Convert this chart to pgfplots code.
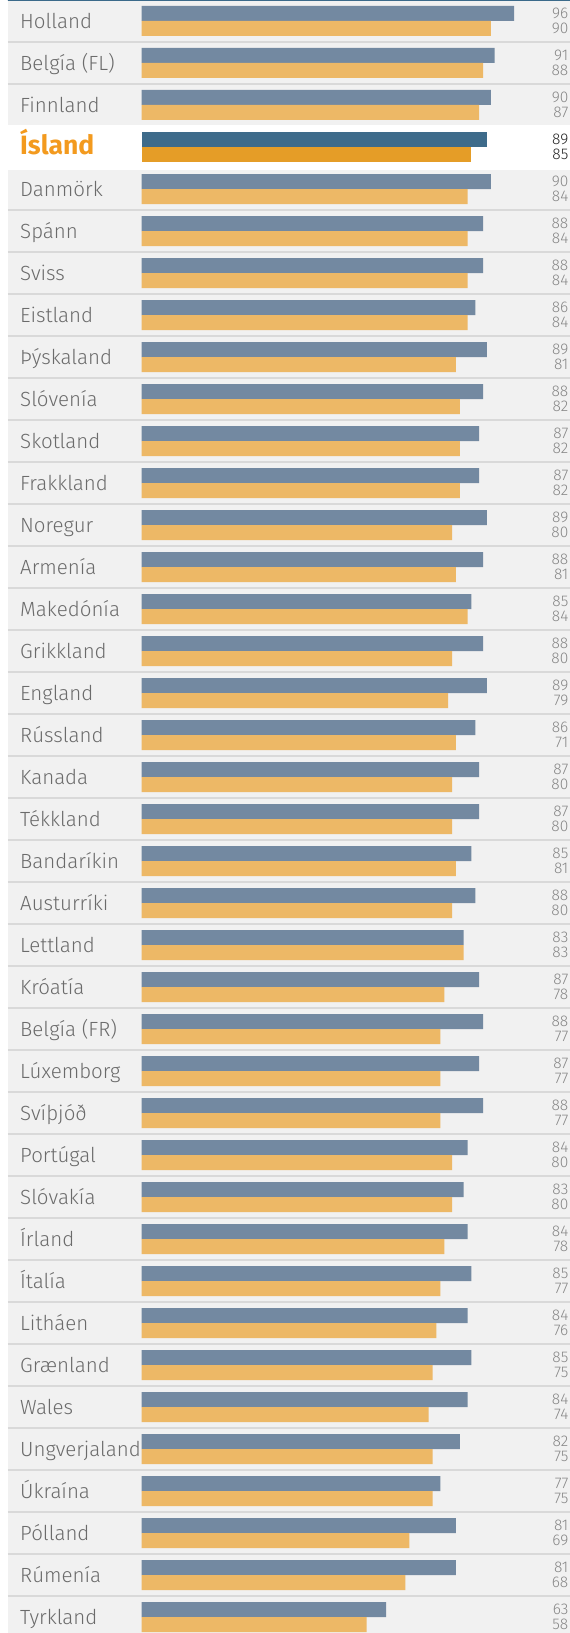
\documentclass[border=0pt]{standalone}
\usepackage{fontspec}
\setmainfont{Fira Sans Light}
\newfontfamily\isfont{Fira Sans}
\usepackage{pgfplots}
\pgfplotsset{compat=1.18}
\usepackage{pgfplotstable}

\definecolor{barblue}{HTML}{7389A1}
\definecolor{barorange}{HTML}{EDB866}
\definecolor{isblue}{HTML}{3E6B8A}
\definecolor{isorange}{HTML}{E59D27}
\definecolor{islabel}{HTML}{F39A1E}
\definecolor{rowbg}{HTML}{F1F1F1}
\definecolor{rowline}{HTML}{D9D9D9}
\definecolor{topline}{HTML}{3B6A8A}
\definecolor{labelgray}{HTML}{6B6B6B}
\definecolor{valgray}{HTML}{878787}
\definecolor{valdark}{HTML}{262626}

% row 3 = Ísland (highlighted)
\pgfplotstableread{
row blue orange
0  96 90
1  91 88
2  90 87
3  89 85
4  90 84
5  88 84
6  88 84
7  86 84
8  89 81
9  88 82
10 87 82
11 87 82
12 89 80
13 88 81
14 85 84
15 88 80
16 89 79
17 86 81
18 87 80
19 87 80
20 85 81
21 86 80
22 83 83
23 87 78
24 88 77
25 87 77
26 88 77
27 84 80
28 83 80
29 84 78
30 85 77
31 84 76
32 85 75
33 84 74
34 82 75
35 77 75
36 81 69
37 81 68
38 63 58
}\scores

\pgfplotsset{
  rows/.style={
    scale only axis, width=562pt, height=1633pt,
    at={(289pt,816.5pt)}, anchor=center,
    xmin=-34.4, xmax=110.4, ymin=-0.5, ymax=38.38, y dir=reverse,
    hide x axis,
    axis line style={draw=none},
    major tick length=0pt, minor tick length=0pt,
    ytick={0,...,38},
  },
}

\begin{document}
\begin{tikzpicture}
\useasboundingbox (0,0) rectangle (570pt,1633pt);

% row backgrounds and separators
\begin{axis}[rows,
    axis background/.style={fill=rowbg},
    yticklabels={},
    minor ytick={-0.5,0.5,1.5,4.5,5.5,...,38.5},
    yminorgrids=true,
    minor grid style={rowline, line width=1.3pt},
  ]
  \fill[white] (axis cs:-40,2.47) rectangle (axis cs:120,3.55);
  \draw[topline, line width=2.6pt] (axis cs:-40,-0.5) -- (axis cs:120,-0.5);
\end{axis}

% bars and country names
\begin{axis}[rows,
    yticklabel style={anchor=base west, inner sep=0pt, xshift=12pt, yshift=-7.3pt,
      font=\fontsize{20.5}{24}\selectfont, text=labelgray},
    yticklabels={Holland, Belgía (FL), Finnland,
      {\isfont\fontsize{26.5}{30}\selectfont\bfseries\color{islabel}Ísland},
      Danmörk, Spánn, Sviss, Eistland, Þýskaland, Slóvenía, Skotland,
      Frakkland, Noregur, Armenía, Makedónía, Grikkland, England, Rússland,
      Kanada, Tékkland, Bandaríkin, Austurríki, Lettland, Króatía,
      Belgía (FR), Lúxemborg, Svíþjóð, Portúgal, Slóvakía, Írland, Ítalía,
      Litháen, Grænland, Wales, Ungverjaland, Úkraína, Pólland, Rúmenía,
      Tyrkland},
  ]
  \addplot[xbar, bar width=15pt, bar shift=7.5pt, fill=barblue, draw=none,
    y filter/.expression={y==3 ? nan : y}] table[x=blue, y=row] {\scores};
  \addplot[xbar, bar width=15pt, bar shift=-7.5pt, fill=barorange, draw=none,
    y filter/.expression={y==3 ? nan : y}] table[x=orange, y=row] {\scores};
  \addplot[xbar, bar width=15pt, bar shift=7.5pt, fill=isblue, draw=none,
    y filter/.expression={y==3 ? y : nan}] table[x=blue, y=row] {\scores};
  \addplot[xbar, bar width=15pt, bar shift=-7.5pt, fill=isorange, draw=none,
    y filter/.expression={y==3 ? y : nan}] table[x=orange, y=row] {\scores};
\end{axis}

% value labels on the right (as printed in the source)
\begin{axis}[rows,
    yticklabel pos=right,
    yticklabel style={anchor=east, inner sep=0pt, xshift=-1.5pt, align=right,
      font=\fontsize{15.5}{15}\selectfont, text=valgray},
    yticklabels={{96\\90}, {91\\88}, {90\\87},
      {\textcolor{valdark}{89}\\\textcolor{valdark}{85}},
      {90\\84}, {88\\84}, {88\\84}, {86\\84}, {89\\81}, {88\\82}, {87\\82},
      {87\\82}, {89\\80}, {88\\81}, {85\\84}, {88\\80}, {89\\79}, {86\\71},
      {87\\80}, {87\\80}, {85\\81}, {88\\80}, {83\\83}, {87\\78}, {88\\77},
      {87\\77}, {88\\77}, {84\\80}, {83\\80}, {84\\78}, {85\\77}, {84\\76},
      {85\\75}, {84\\74}, {82\\75}, {77\\75}, {81\\69}, {81\\68}, {63\\58}},
  ]
\end{axis}
\end{tikzpicture}
\end{document}
